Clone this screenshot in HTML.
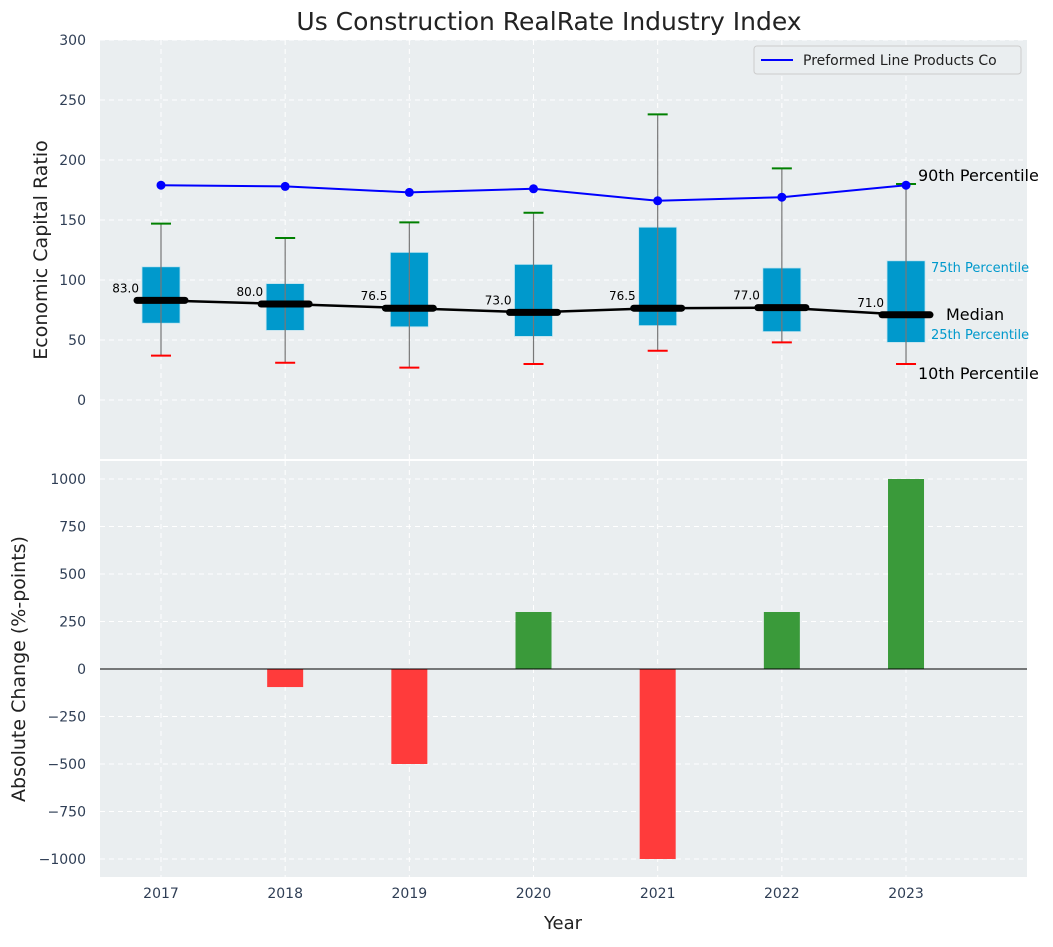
<!DOCTYPE html>
<html><head><meta charset="utf-8"><style>
body{margin:0;background:#fff;font-family:"Liberation Sans","DejaVu Sans",sans-serif;}
svg text{font-family:"DejaVu Sans","Liberation Sans",sans-serif;}
</style></head><body>
<svg id="c" width="1053" height="942" xmlns="http://www.w3.org/2000/svg"></svg>
<script>
const years=[2017,2018,2019,2020,2021,2022,2023];
const p90Line=[179,178,173,176,166,169,179];
const q1=[64,58,61,53,62,57,48];
const q3=[111,97,123,113,144,110,116];
const medians=[83,80,76.5,73,76.5,77,71];
const p10=[37,31,27,30,41,48,30];
const p90=[147,135,148,156,238,193,180];
const changes=[0,-95,-500,300,-1000,300,1000];
const topTicks=[0,50,100,150,200,250,300];
const botTicks=[-1000,-750,-500,-250,0,250,500,750,1000];

const NS="http://www.w3.org/2000/svg";
const svg=document.getElementById('c');
function el(t,a,txt){const e=document.createElementNS(NS,t);for(const k in a)e.setAttribute(k,a[k]);if(txt!==undefined)e.textContent=txt;svg.appendChild(e);return e;}
const L=100,R=1027;
const x=v=>161+(v-2017)*124.17;
const yT=v=>400-v*1.2;
const yB=v=>669-v*0.19;
const fmt=t=>t<0?'\u2212'+Math.abs(t):String(t);

let e;
e=el('rect',{x:L,y:40,width:R-L,height:419,fill:'#eaeef0'});

e=el('rect',{x:L,y:461,width:R-L,height:416,fill:'#eaeef0'});


years.forEach(yr=>{
 el('line',{x1:x(yr),x2:x(yr),y1:40,y2:459,stroke:'#fff','stroke-dasharray':'5,4','stroke-width':1});
 el('line',{x1:x(yr),x2:x(yr),y1:461,y2:877,stroke:'#fff','stroke-dasharray':'5,4','stroke-width':1});
 e=el('text',{x:x(yr),y:898,'font-size':14,fill:'#2f3e55','text-anchor':'middle'},yr);
 
});
topTicks.forEach(t=>{
 el('line',{x1:L,x2:R,y1:yT(t),y2:yT(t),stroke:'#fff','stroke-dasharray':'5,4'});
 e=el('text',{x:86,y:yT(t)+5,'font-size':14,fill:'#2f3e55','text-anchor':'end'},fmt(t));
 
});
botTicks.forEach(t=>{
 el('line',{x1:L,x2:R,y1:yB(t),y2:yB(t),stroke:'#fff','stroke-dasharray':'5,4'});
 e=el('text',{x:86,y:yB(t)+5,'font-size':14,fill:'#2f3e55','text-anchor':'end'},fmt(t));
 
});

years.forEach((yr,i)=>{
 const cx=x(yr);
 e=el('rect',{x:cx-19,y:yT(q3[i]),width:38,height:yT(q1[i])-yT(q3[i]),fill:'#0099cc',stroke:'#bfe3ef','stroke-width':0.8});
 
 e=el('line',{x1:cx,x2:cx,y1:yT(p90[i]),y2:yT(p10[i]),stroke:'#777','stroke-width':1.2});
 
 e=el('line',{x1:cx-10,x2:cx+10,y1:yT(p90[i]),y2:yT(p90[i]),stroke:'green','stroke-width':2});
 
 e=el('line',{x1:cx-10,x2:cx+10,y1:yT(p10[i]),y2:yT(p10[i]),stroke:'red','stroke-width':2});
 
});
e=el('polyline',{points:years.map((yr,i)=>x(yr)+','+yT(medians[i])).join(' '),fill:'none',stroke:'#000','stroke-width':2.5});

years.forEach((yr,i)=>{
 const cx=x(yr);
 e=el('line',{x1:cx-24,x2:cx+24,y1:yT(medians[i]),y2:yT(medians[i]),stroke:'#000','stroke-width':7,'stroke-linecap':'round'});
 
 e=el('text',{x:cx-22,y:yT(medians[i])-8,'font-size':12,fill:'#000','text-anchor':'end'},medians[i].toFixed(1));
 
});
e=el('polyline',{points:years.map((yr,i)=>x(yr)+','+yT(p90Line[i])).join(' '),fill:'none',stroke:'blue','stroke-width':2});

years.forEach((yr,i)=>{
 e=el('circle',{cx:x(yr),cy:yT(p90Line[i]),r:4.5,fill:'blue'});
 
});
e=el('text',{x:918,y:181,'font-size':16,fill:'#000'},'90th Percentile');
e=el('text',{x:931,y:272,'font-size':13,fill:'#0099cc'},'75th Percentile');
e=el('text',{x:946,y:320,'font-size':16,fill:'#000'},'Median');
e=el('text',{x:931,y:339,'font-size':13,fill:'#0099cc'},'25th Percentile');
e=el('text',{x:918,y:379,'font-size':16,fill:'#000'},'10th Percentile');

e=el('rect',{x:754,y:46,width:267,height:28,fill:'#eaeef0',stroke:'#ccc',rx:3});

el('line',{x1:761,x2:793,y1:60,y2:60,stroke:'blue','stroke-width':2});
e=el('text',{x:803,y:65,'font-size':14,fill:'#222'},'Preformed Line Products Co');


years.forEach((yr,i)=>{
 const v=changes[i];
 e=el('rect',{x:x(yr)-18,y:Math.min(yB(v),yB(0)),width:36,height:Math.abs(yB(v)-yB(0)),fill:v>=0?'#3a9a3a':'#ff3b3b'});
 
});
el('line',{x1:L,x2:R,y1:yB(0),y2:yB(0),stroke:'#000','stroke-width':1});

e=el('text',{x:549,y:30,'font-size':25,fill:'#222','text-anchor':'middle'},'Us Construction RealRate Industry Index');

e=el('text',{x:563,y:929,'font-size':18,fill:'#222','text-anchor':'middle'},'Year');

e=el('text',{x:0,y:0,'font-size':19,fill:'#222','text-anchor':'middle',transform:'translate(47,250) rotate(-90)'},'Economic Capital Ratio');

e=el('text',{x:0,y:0,'font-size':19,fill:'#222','text-anchor':'middle',transform:'translate(25,669) rotate(-90)'},'Absolute Change (%-points)');

</script>
</body></html>
